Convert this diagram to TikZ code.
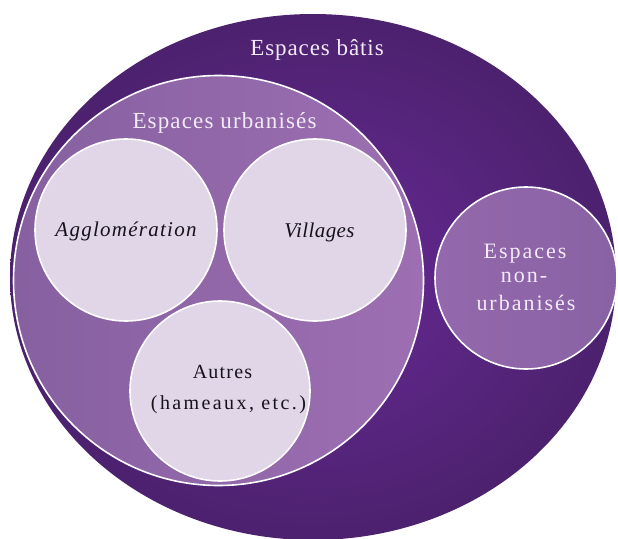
\documentclass[tikz,border=0pt]{standalone}
\usepackage{fontspec}
\setmainfont{Liberation Serif}
\usetikzlibrary{shapes.geometric}
\definecolor{outerin}{RGB}{104,42,150}
\definecolor{outerout}{RGB}{76,33,110}
\definecolor{urbleft}{RGB}{134,96,160}
\definecolor{urbright}{RGB}{157,111,178}
\definecolor{pale}{RGB}{225,213,232}
\definecolor{nonleft}{RGB}{148,104,172}
\definecolor{nonright}{RGB}{136,98,164}
\definecolor{lighttext}{RGB}{242,234,246}
\definecolor{darktext}{RGB}{22,18,26}
\tikzset{
  ring/.style={circle, draw=white, line width=1.6pt, inner sep=0},
  palering/.style={ring, fill=pale},
  lbl/.style={anchor=base, inner sep=0},
}
\begin{document}
\begin{tikzpicture}[x=1pt,y=-1pt]
\useasboundingbox (0,0) rectangle (618,538);
% outer ellipse
\node[ellipse, minimum width=606pt, minimum height=526pt, inner sep=0,
      inner color=outerin, outer color=outerout] (bati) at (313,277) {};
% urbanised
\node[ring, minimum size=410pt, left color=urbleft, right color=urbright] (urb) at (218.5,280.5) {};
% inner circles
\node[palering, minimum size=182pt] (agglo) at (126,230) {};
\node[palering, minimum size=182pt] (vill) at (315,230) {};
\node[palering, minimum size=180pt] (autres) at (220,391) {};
% non-urbanised
\node[ring, minimum size=182pt, left color=nonleft, right color=nonright] (nonurb) at (526,278) {};
% labels
\node[lbl, text=lighttext, font=\fontsize{23}{28}\selectfont\addfontfeature{LetterSpace=4}] (tbati) at (317,55) {Espaces bâtis};
\node[lbl, text=lighttext, font=\fontsize{23}{28}\selectfont\addfontfeature{LetterSpace=5}] (turb) at (224.5,128) {Espaces urbanisés};
\node[lbl, text=darktext, font=\fontsize{21}{26}\selectfont\itshape\addfontfeature{LetterSpace=6}] (tagglo) at (126,236) {Agglomération};
\node[lbl, text=darktext, font=\fontsize{21}{26}\selectfont\itshape\addfontfeature{LetterSpace=2}] (tvill) at (319.5,237) {Villages};
\node[lbl, text=darktext, font=\fontsize{20}{24}\selectfont\addfontfeature{LetterSpace=6}] (tautres) at (222.5,378) {Autres};
\node[lbl, text=darktext, font=\fontsize{20}{24}\selectfont\addfontfeature{LetterSpace=12}] (thameaux) at (228.5,409) {(hameaux, etc.)};
\node[lbl, text=lighttext, font=\fontsize{22}{26}\selectfont\addfontfeature{LetterSpace=9}] (tnon1) at (525,258) {Espaces};
\node[lbl, text=lighttext, font=\fontsize{22}{26}\selectfont\addfontfeature{LetterSpace=9}] (tnon2) at (524,282) {non-};
\node[lbl, text=lighttext, font=\fontsize{22}{26}\selectfont\addfontfeature{LetterSpace=9}] (tnon3) at (526,310) {urbanisés};
\end{tikzpicture}
\end{document}
